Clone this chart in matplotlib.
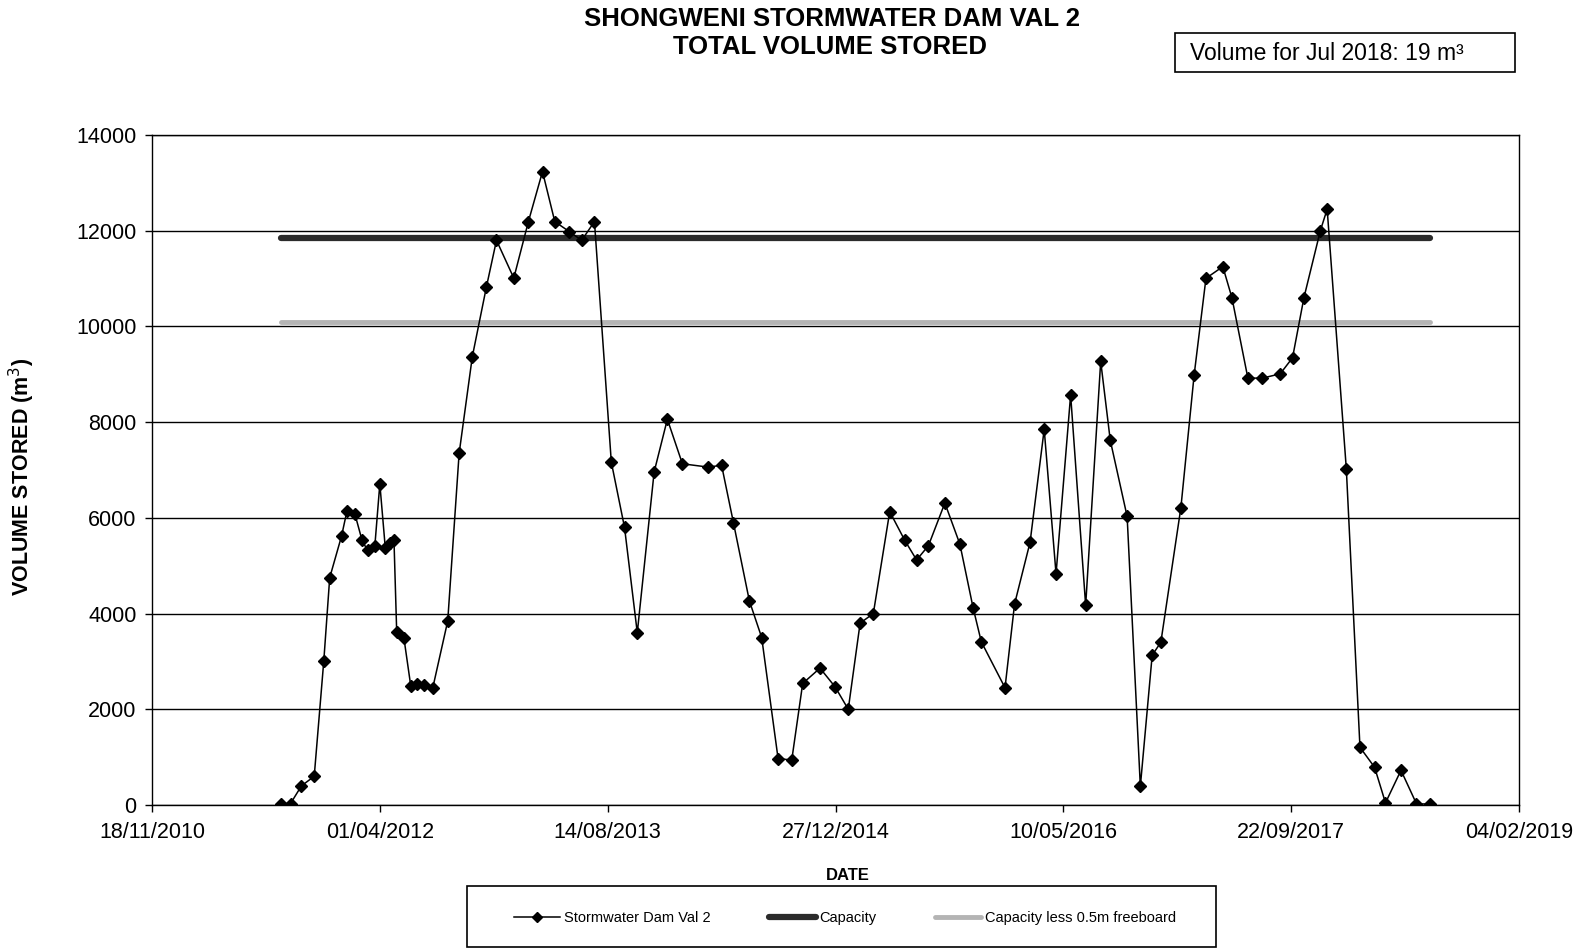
import matplotlib
matplotlib.use("Agg")
import matplotlib.pyplot as plt
import matplotlib.dates as mdates
import pandas as pd
from matplotlib.patches import Rectangle

# Survey dates and stored volumes (m3)
survey_dates = [
    "2011-08-29", "2011-09-18", "2011-10-12", "2011-11-09", "2011-11-30", "2011-12-13",
    "2012-01-08", "2012-01-20", "2012-02-06", "2012-02-22", "2012-03-05", "2012-03-21",
    "2012-04-01", "2012-04-13", "2012-04-23", "2012-05-02", "2012-05-08", "2012-05-24",
    "2012-06-08", "2012-06-22", "2012-07-07", "2012-07-26", "2012-08-28", "2012-09-22",
    "2012-10-21", "2012-11-21", "2012-12-13", "2013-01-20", "2013-02-21", "2013-03-24",
    "2013-04-20", "2013-05-22", "2013-06-18", "2013-07-16", "2013-08-22", "2013-09-20",
    "2013-10-18", "2013-11-24", "2013-12-23", "2014-01-25", "2014-03-23", "2014-04-21",
    "2014-05-17", "2014-06-21", "2014-07-18", "2014-08-23", "2014-09-22", "2014-10-16",
    "2014-11-23", "2014-12-26", "2015-01-24", "2015-02-19", "2015-03-20", "2015-04-25",
    "2015-05-28", "2015-06-23", "2015-07-19", "2015-08-24", "2015-09-26", "2015-10-25",
    "2015-11-12", "2016-01-03", "2016-01-24", "2016-02-27", "2016-03-29", "2016-04-24",
    "2016-05-26", "2016-06-28", "2016-07-31", "2016-08-21", "2016-09-27", "2016-10-26",
    "2016-11-21", "2016-12-10", "2017-01-23", "2017-02-21", "2017-03-19", "2017-04-25",
    "2017-05-15", "2017-06-19", "2017-07-21", "2017-08-29", "2017-09-25", "2017-10-20",
    "2017-11-25", "2017-12-10", "2018-01-21", "2018-02-20", "2018-03-24", "2018-04-17",
    "2018-05-21", "2018-06-24", "2018-07-23",
]
volume_stored = [
    30, 30, 400, 600, 3010, 4750,
    5620, 6150, 6090, 5530, 5320, 5410,
    6710, 5370, 5480, 5545, 3620, 3480,
    2480, 2530, 2510, 2440, 3845, 7345,
    9370, 10830, 11800, 11010, 12190, 13235,
    12190, 11980, 11800, 12190, 7165, 5800,
    3600, 6960, 8060, 7130, 7060, 7100,
    5900, 4265, 3500, 970, 940, 2540,
    2860, 2470, 2000, 3800, 4000, 6130,
    5530, 5120, 5420, 6310, 5450, 4120,
    3410, 2450, 4200, 5490, 7850, 4830,
    8570, 4170, 9270, 7620, 6030, 390,
    3130, 3400, 6215, 8980, 11005, 11250,
    10600, 8920, 8920, 9010, 9345, 10600,
    12000, 12450, 7030, 1205, 790, 45,
    725, 25, 19,
]
capacity = 11850
capacity_less_freeboard = 10100

x_start, x_end = "2010-11-18", "2019-02-04"

dates = pd.to_datetime(survey_dates)

plt.rcParams['font.family'] = ['Liberation Sans', 'DejaVu Sans']

fig = plt.figure(figsize=(15.91, 9.51), dpi=100)
ax = fig.add_axes([152 / 1591, 1 - 805 / 951, 1367 / 1591, 670 / 951])

# reference lines over the survey period
cap_line, = ax.plot(dates, [capacity] * len(dates), color="#2b2b2b", lw=4.5,
                    solid_capstyle="round", label="Capacity", zorder=3)
fb_line, = ax.plot(dates, [capacity_less_freeboard] * len(dates), color="#b4b4b4", lw=3.5,
                   solid_capstyle="round", label="Capacity less 0.5m freeboard", zorder=3)
vol_line, = ax.plot(dates, volume_stored, color="black", lw=1.1, marker="D",
                    markersize=6.3, label="Stormwater Dam Val 2", zorder=4)

ax.set_xlim(pd.Timestamp(x_start), pd.Timestamp(x_end))
ax.set_ylim(0, 14000)
ax.set_yticks(range(0, 14001, 2000))
ax.set_xticks(pd.date_range(x_start, x_end, freq="500D"))
ax.xaxis.set_major_formatter(mdates.DateFormatter("%d/%m/%Y"))

ax.grid(axis="y", color="black", lw=1.0)
ax.set_axisbelow(True)
for sp in ax.spines.values():
    sp.set_color("black")
    sp.set_linewidth(1.0)
ax.tick_params(axis="both", direction="out", length=5, width=1, colors="black",
               labelsize=15.5, pad=6)
ax.tick_params(axis="x", pad=7)

# titles and labels
fig.text(820 / 1568 * 1.0, 1 - 19 / 951, "SHONGWENI STORMWATER DAM VAL 2", ha="center", va="center",
         fontsize=18.5, fontweight="bold")
fig.text(818 / 1568, 1 - 47 / 951, "TOTAL VOLUME STORED", ha="center", va="center",
         fontsize=18.5, fontweight="bold")
fig.text(22 / 1591, 1 - 477 / 951, "VOLUME STORED (m$^3$)", rotation=90, ha="center", va="center",
         fontsize=15.5, fontweight="bold")
fig.text(848 / 1591, 1 - 875 / 951, "DATE", ha="center", va="center", fontsize=12, fontweight="bold")

# volume note box
fig.patches.append(Rectangle((1175 / 1591, 1 - 72 / 951), 340 / 1591, 39 / 951,
                             transform=fig.transFigure, fill=False, edgecolor="black", lw=1.2))
fig.text(1190 / 1591, 1 - 54 / 951, "Volume for Jul 2018: 19 m³", ha="left", va="center",
         fontsize=16.5)

# legend box
fig.patches.append(Rectangle((467 / 1591, 1 - 947 / 951), 749 / 1591, 61 / 951,
                             transform=fig.transFigure, fill=False, edgecolor="black", lw=1.2))
fig.legend(handles=[vol_line, cap_line, fb_line], loc="center",
           bbox_to_anchor=(845 / 1591, 1 - 918 / 951), ncol=3, frameon=False,
           prop={"size": 10.5},
           handlelength=3.2, handletextpad=0.25, columnspacing=4.0, markerscale=0.75)

fig.savefig("out.png", dpi=100)
